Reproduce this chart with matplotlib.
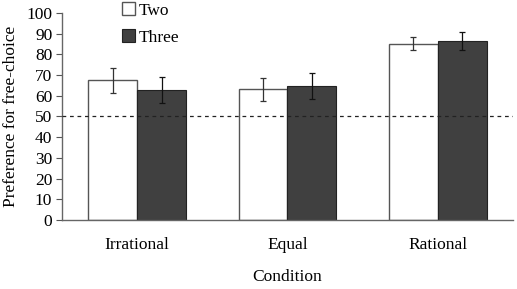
import matplotlib
matplotlib.use("Agg")
import matplotlib.pyplot as plt
import numpy as np

conditions = ["Irrational", "Equal", "Rational"]
two_means = [67.5, 63.2, 85.2]
two_err = [6.0, 5.5, 3.0]
three_means = [62.8, 64.6, 86.5]
three_err = [6.5, 6.2, 4.5]
series_names = ["Two", "Three"]
yticks = list(range(0, 101, 10))

plt.rcParams['font.family'] = ['Liberation Serif', 'DejaVu Serif']

fig = plt.figure(figsize=(5.17, 2.89), dpi=100)
ax = fig.add_axes([0.12, 0.239, 0.872, 0.716])

x = np.arange(len(conditions))
w = 0.325
ax.bar(x - w/2, two_means, w, color="white", edgecolor="#555555", linewidth=1.0,
       yerr=two_err, error_kw=dict(ecolor="#333333", elinewidth=0.9, capsize=2.5, capthick=0.9),
       label=series_names[0], zorder=2)
ax.bar(x + w/2, three_means, w, color="#404040", edgecolor="#222222", linewidth=0.8,
       yerr=three_err, error_kw=dict(ecolor="#111111", elinewidth=0.9, capsize=2.5, capthick=0.9),
       label=series_names[1], zorder=2)

ax.axhline(50, color="#222222", linestyle=(0, (3, 3)), linewidth=0.9, zorder=3)

ax.set_xlim(-0.5, 2.5)
ax.set_ylim(0, 100)
ax.set_yticks(yticks)
ax.set_xticks(x)
ax.set_xticklabels(conditions, fontsize=12.5)
ax.tick_params(axis='x', length=0, pad=12)
ax.tick_params(axis='y', length=4, direction='out', labelsize=12.5, pad=3, color="#555555")
for s in ["top", "right"]:
    ax.spines[s].set_visible(False)
for s in ["left", "bottom"]:
    ax.spines[s].set_color("#666666")
    ax.spines[s].set_linewidth(1.0)

ax.set_ylabel("Preference for free-choice", fontsize=12.5, labelpad=5)
ax.set_xlabel("Condition", fontsize=12.5, labelpad=12)

leg = ax.legend(loc="upper left", bbox_to_anchor=(0.117, 1.085), frameon=False,
                fontsize=12.5, handlelength=0.75, handleheight=0.75, handletextpad=0.2,
                labelspacing=0.6, borderaxespad=0)

fig.savefig("out.png", dpi=100)
